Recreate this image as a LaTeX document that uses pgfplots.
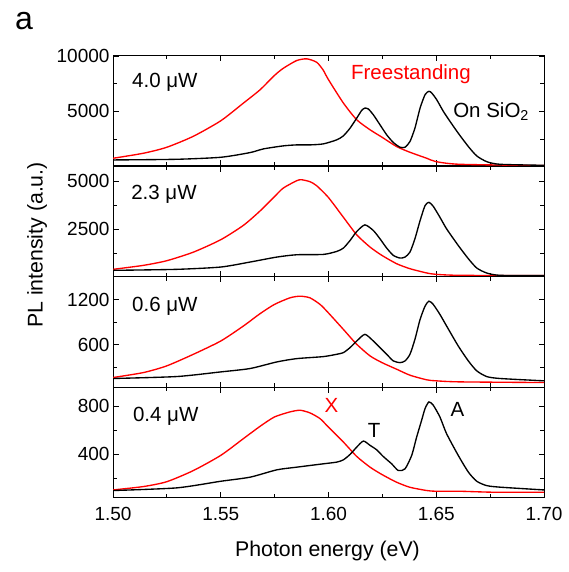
\documentclass[border=0pt]{standalone}
\usepackage{fontspec}
\setmainfont{Liberation Sans}
\usepackage{pgfplots}
\pgfplotsset{compat=1.18}

\pgfplotsset{
  panel/.style={
    scale only axis, width=431pt, height=110.5pt,
    anchor=south west,
    xmin=1.5, xmax=1.7,
    xtick={1.50,1.55,1.60,1.65,1.70},
    minor xtick={1.525,1.575,1.625,1.675},
    tick align=inside,
    major tick length=5.5pt, minor tick length=4pt,
    every tick/.style={black, line width=0.8pt},
    axis line style={line width=1pt},
    scaled y ticks=false,
    tick label style={font=\fontsize{19}{22}\selectfont},
    /pgf/number format/assume math mode=true,
    /pgf/number format/1000 sep={},
    xticklabel style={yshift=-6pt, /pgf/number format/.cd, fixed, fixed zerofill, precision=2},
    clip=true,
  },
  red line/.style={color=red, line width=1.35pt, smooth, tension=0.4},
  black line/.style={color=black, line width=1.35pt, smooth, tension=0.4},
}
\newcommand{\lab}{\fontsize{20.5}{24}\selectfont}

\begin{document}
\begin{tikzpicture}
\path[use as bounding box] (0,0) rectangle (569pt,572pt);

% panel 1: 4.0 uW
\begin{axis}[panel, at={(113pt,406pt)}, ymin=60, ymax=10060,
  ytick={5000,10000}, minor ytick={2500,7500}, xticklabels={}]
\addplot[red line] table {
1.5000 758
1.5141 1213
1.5249 1750
1.5373 2750
1.5500 4150
1.5605 5750
1.5682 6950
1.5749 8250
1.5790 8900
1.5852 9600
1.5899 9758
1.5945 9450
1.5975 8750
1.5999 7900
1.6069 5758
1.6131 4243
1.6193 3334
1.6248 2667
1.6316 1819
1.6378 1303
1.6456 758
1.6499 455
1.6610 213
1.7000 92
};
\addplot[black line] table {
1.5000 607
1.5295 667
1.5500 849
1.5636 1273
1.5698 1607
1.5790 1880
1.5852 1970
1.5914 1970
1.5976 2061
1.6038 2425
1.6069 2789
1.6100 3485
1.6131 4394
1.6154 5091
1.6169 5304
1.6185 5213
1.6208 4697
1.6239 3788
1.6270 2880
1.6301 2183
1.6332 1758
1.6355 1758
1.6378 2273
1.6401 3485
1.6425 5304
1.6448 6516
1.6466 6819
1.6479 6667
1.6502 6061
1.6533 5000
1.6564 4091
1.6602 3031
1.6649 1819
1.6688 971
1.6734 455
1.6796 213
1.7000 122
};
\node[anchor=west, inner sep=0] at (rel axis cs:0.044,0.755) {\lab 4.0 μW};
\node[anchor=west, inner sep=0, text=red] at (rel axis cs:0.552,0.827) {\lab Freestanding};
\node[anchor=west, inner sep=0] at (rel axis cs:0.789,0.49) {\lab On SiO\textsubscript{2}};
\end{axis}

% panel 2: 2.3 uW
\begin{axis}[panel, at={(113pt,295pt)}, ymin=0, ymax=5780,
  ytick={2500,5000}, minor ytick={1250,3750}, xticklabels={}]
\addplot[red line] table {
1.5000 400
1.5141 608
1.5249 850
1.5373 1300
1.5500 1950
1.5605 2700
1.5682 3450
1.5749 4200
1.5790 4650
1.5852 5035
1.5875 5087
1.5914 4983
1.5945 4774
1.5999 4167
1.6069 3125
1.6131 2205
1.6193 1563
1.6248 1129
1.6316 695
1.6378 434
1.6456 209
1.6499 139
1.6610 87
1.7000 70
};
\addplot[black line] table {
1.5000 348
1.5295 400
1.5500 521
1.5636 782
1.5760 1042
1.5852 1163
1.5976 1181
1.6038 1337
1.6069 1511
1.6100 1910
1.6131 2379
1.6169 2726
1.6208 2431
1.6239 1997
1.6270 1511
1.6301 1129
1.6332 990
1.6355 1042
1.6378 1302
1.6401 1997
1.6425 2952
1.6448 3733
1.6466 3906
1.6486 3698
1.6517 3125
1.6548 2518
1.6602 1650
1.6649 955
1.6688 469
1.6734 209
1.6796 87
1.7000 70
};
\node[anchor=west, inner sep=0] at (rel axis cs:0.042,0.748) {\lab 2.3 μW};
\end{axis}

% panel 3: 0.6 uW
\begin{axis}[panel, at={(113pt,184.5pt)}, ymin=26, ymax=1500,
  ytick={600,1200}, minor ytick={300,900}, xticklabels={}]
\addplot[red line] table {
1.5000 159
1.5141 225
1.5249 314
1.5373 469
1.5500 646
1.5605 846
1.5682 1010
1.5749 1134
1.5821 1222
1.5868 1244
1.5914 1222
1.5961 1134
1.5999 1023
1.6069 801
1.6131 602
1.6193 447
1.6248 358
1.6316 270
1.6378 190
1.6456 128
1.6499 115
1.6610 101
1.7000 92
};
\addplot[black line] table {
1.5000 146
1.5295 172
1.5500 234
1.5636 279
1.5760 367
1.5852 411
1.5976 438
1.6038 469
1.6069 491
1.6100 558
1.6131 646
1.6169 735
1.6208 646
1.6239 558
1.6270 469
1.6301 380
1.6332 358
1.6355 380
1.6378 469
1.6401 668
1.6425 934
1.6448 1111
1.6466 1178
1.6486 1134
1.6517 1001
1.6548 846
1.6602 580
1.6649 380
1.6688 248
1.6734 172
1.6796 146
1.7000 115
};
\node[anchor=west, inner sep=0] at (rel axis cs:0.044,0.739) {\lab 0.6 μW};
\end{axis}

% panel 4: 0.4 uW
\begin{axis}[panel, at={(113pt,74pt)}, ymin=35, ymax=953,
  ytick={400,800}, minor ytick={200,600}]
\addplot[red line] table {
1.5000 102
1.5141 130
1.5249 170
1.5373 263
1.5500 389
1.5605 528
1.5682 630
1.5749 708
1.5821 750
1.5868 764
1.5914 742
1.5961 694
1.5999 625
1.6069 500
1.6131 380
1.6193 291
1.6248 230
1.6316 166
1.6378 124
1.6456 97
1.6499 91
1.6610 91
1.6765 83
1.7000 83
};
\addplot[black line] table {
1.5000 97
1.5295 119
1.5500 174
1.5636 208
1.5760 269
1.5852 291
1.5976 319
1.6038 333
1.6069 352
1.6100 397
1.6131 458
1.6162 508
1.6193 472
1.6223 436
1.6254 380
1.6293 319
1.6324 263
1.6355 277
1.6386 389
1.6409 541
1.6432 680
1.6448 778
1.6466 833
1.6486 806
1.6517 708
1.6548 569
1.6602 389
1.6649 250
1.6688 174
1.6734 138
1.6796 125
1.7000 102
};
\node[anchor=west, inner sep=0] at (rel axis cs:0.046,0.736) {\lab 0.4 μW};
\node[inner sep=0, text=red] at (rel axis cs:0.507,0.836) {\lab X};
\node[inner sep=0] at (rel axis cs:0.606,0.609) {\lab T};
\node[inner sep=0] at (rel axis cs:0.799,0.80) {\lab A};
\end{axis}

\node[anchor=base west, inner sep=0] at (15pt,542pt) {\fontsize{32}{36}\selectfont a};
\node[rotate=90, inner sep=0] at (37pt,327pt) {\fontsize{21.3}{25}\selectfont PL intensity (a.u.)};
\node[inner sep=0] at (327.5pt,21pt) {\fontsize{21.3}{25}\selectfont Photon energy (eV)};
\end{tikzpicture}
\end{document}
